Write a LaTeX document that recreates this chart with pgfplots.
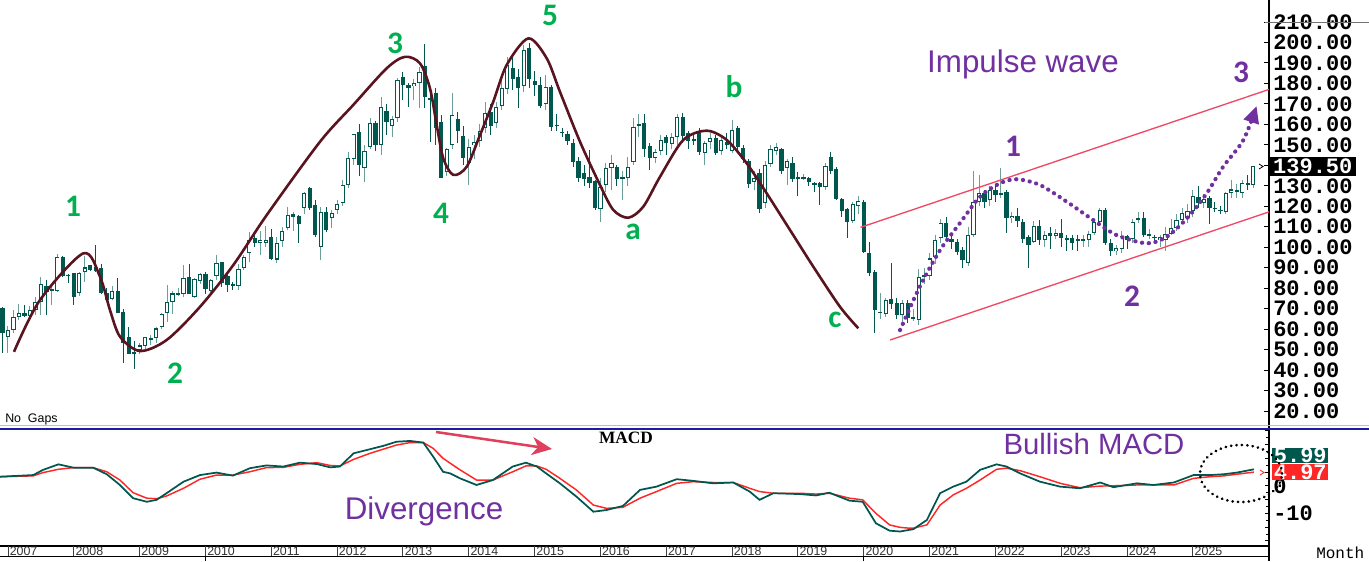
\documentclass[border=0pt]{standalone}
\usepackage{pgfplots}
\pgfplotsset{compat=1.18}
\usepackage{pgfplotstable}
\usepackage{fontspec}
\setmainfont{Liberation Sans}
\newfontfamily\monofont{Liberation Mono}
\newfontfamily\seriffont{Liberation Serif}
\newfontfamily\numfont{Carlito}
\usetikzlibrary{arrows.meta}
\newlength\px
\setlength\px{0.75pt}
\definecolor{candle}{HTML}{00574E}
\definecolor{wickup}{HTML}{6A9E98}
\definecolor{macdg}{HTML}{00574E}
\definecolor{macdr}{HTML}{FF2626}
\definecolor{wavegreen}{HTML}{00B050}
\definecolor{wavepurple}{HTML}{7030A0}
\definecolor{wavemaroon}{HTML}{5A1420}
\definecolor{chan}{HTML}{EE4866}
\definecolor{arrowred}{HTML}{E0405E}
\definecolor{sepblue}{HTML}{1C1CA0}
\newcommand\pricefont{\monofont\bfseries\fontsize{16.5}{16.5}\selectfont}

\pgfplotstableread{
m o h l c
-1 70.1 71 48.1 57.9
0 56.0 61.5 48.4 59.5
1 59.5 69.5 58 66.0
2 66 72.5 64.4 68
3 68 72 66 66.4
4 66.4 71.3 65.2 69.3
5 69.3 75.5 66.9 73.3
6 73.3 85.3 66.9 82
7 81 84 66.9 78.2
8 78.6 81.5 72 79.4
9 78.6 96.7 77.9 95
10 95 95.7 85.6 85.9
11 86.4 87 82.5 86
12 87.2 87.5 71.7 75.8
13 77.4 88 76 87.2
14 88 95.7 83.1 90.1
15 91.2 91.5 88.5 88.9
16 90.5 101 88 88.5
17 90 92 77.1 77.4
18 77.4 80 74 74.2
19 74.5 81 74 78.7
20 78.7 84.8 68 68
21 68.5 70 43.6 53
22 56.3 61.2 47.8 47.8
23 48.5 54.3 40.3 48.5
24 49.8 53 48 52
25 51.7 56.3 49.8 56.3
26 55 57 52 55.5
27 55.8 61 53 60.3
28 61.2 68 60 67.3
29 68 81.5 63.6 73.4
30 73.4 78.5 67.6 77.4
31 77 80 76 77.2
32 77 91.3 75.8 84.8
33 85.6 91.8 77 77.1
34 75.8 85 75 84.4
35 83.5 87.5 82 86.9
36 86.9 88 77 79.4
37 78.7 84.3 77.8 83.8
38 85.9 96.2 84 92.1
39 92.8 93 80.7 82.3
40 86.1 86.5 78.2 81.5
41 82 83 79 81.4
42 81 92 79 89.2
43 90 96 89 95.4
44 97 107.6 92.9 103.5
45 104.3 107 100 102.2
46 102.2 108 96 103.5
47 102.2 110.3 100.2 103.5
48 104.8 109 93.7 94.1
49 94 105 92.1 102.2
50 103.2 110 100.2 108.1
51 109.2 119.5 108.4 115.9
52 115 117 108 116
53 115.2 115.7 101.9 111.2
54 119 127 116 126.3
55 128.7 129.5 118 119
56 120.6 123 105 106
57 100.2 119.5 93.7 117.3
58 117.3 119.5 107.6 108.4
59 114.1 118 109.2 116.5
60 118.2 123 116 120.9
61 121.4 133 120 130.4
62 130.4 146.3 129 143.4
63 143.1 155.5 140 155.1
64 156.1 160 135 140.1
65 138.8 150 132 147
66 149.1 163 148 160.5
67 160.5 161.5 147 149.9
68 149.9 173.5 145 168.3
69 166.5 170 155 161
70 159.4 164 154 162.4
71 162.9 182.5 161 181.7
72 183.3 185.5 172 179.2
73 179.2 180 168.6 177.9
74 178.9 182 172 180
75 180.4 188 168 185.7
76 188.5 199.1 168 173.2
77 173 175 151.5 172.2
78 175.2 178 150 158.4
79 161 164.6 134 134
80 136.9 148.5 135 148
81 150 175.5 148 164.6
82 162.4 166 151 156.9
83 154.5 159 140 143.4
84 141.3 153 130.4 149.1
85 149.9 155 143 151.2
86 152 160 149 156.9
87 158.1 171 156 165.4
88 166.2 170 155 159.4
89 160.5 171 158 168.3
90 169.1 182 167 177.9
91 177.3 193 175 189
92 187.4 194 177 182
93 183.3 187 168 177.6
94 178.9 199 176 196.3
95 197.1 199.5 178 182
96 181.2 186 174 179.2
97 179.2 183 168 169.1
98 170 184 167 178.4
99 178.1 179 157 158.9
100 159.5 165 157 159.4
101 156.3 158 154 156.1
102 155.3 157 150 152
103 151 153 139 141.8
104 142.1 144 132 134
105 136.4 140 130 133.3
106 134.1 147.5 129 131.5
107 132.3 133 118 119.3
108 118.5 134 112.5 129.6
109 130.4 141 127 138.5
110 138.5 145 128 141
111 139.3 140 130 133.3
112 133.1 137 123 134.1
113 134 144 130 139
114 141.8 163 140 158.5
115 159.6 165 154 160
116 160.5 165 144 148
117 149.4 151 137.7 143.4
118 143.7 148 141 146.3
119 147 155 145 152.3
120 154 155 145 151
121 150.2 156 148 154
122 154 165 150 163.4
123 163.4 165.4 151 154.3
124 155.9 157 148 152
125 152.4 155 150 152.3
126 155.6 158 145 146.6
127 145.8 152 140.1 150.7
128 151.2 156 148 153.2
129 153.2 155 145 145.8
130 147.1 154 145 152.3
131 151.5 156 148 149.9
132 147.1 162 146 157.2
133 158 159 147 149.1
134 148.3 150 141 142.9
135 142.2 143 129 130.8
136 132 137 128 133.6
137 136.1 138 116.8 118.5
138 121.4 142 119 140.1
139 140.5 150 139 147.8
140 147.1 151 145 149.1
141 148 148.5 136 137.4
142 138.5 143 130.4 142.2
143 141.3 144 132 133.1
144 134.1 136.9 125 134
145 134 136 133 134.1
146 134 134.5 130 132
147 131.2 132 127 131
148 131.2 132 120.6 129.2
149 129.2 141 128 139.6
150 143.9 146.6 136 137.4
151 138.2 139 123 123.4
152 123.4 124 115 117.8
153 118.6 119 104.3 112.1
154 112.9 122 112 121.1
155 120.1 125 116 122.7
156 122.2 123 97 97.8
157 97.3 102.7 86 87.2
158 88 89 58.2 69.3
159 68.0 77.5 65 68.6
160 67.3 75 65.8 74.2
161 74.5 92.2 70 72.2
162 72.9 75 65 66.9
163 66.9 74 62 72.6
164 72.9 74 63 65.2
165 65.2 70 64 65.7
166 64.4 89.5 62 85.6
167 85.6 90 82 86.5
168 86.0 97 84 94.5
169 95 106 92 103.5
170 104.3 114 102 111.6
171 111.6 115 103 105.1
172 103.8 106 99 102.7
173 102.7 104 96 97.8
174 98.6 100 90 93.7
175 92.1 110 91 105.9
176 105.9 137.4 105 122.2
177 122.2 135.3 120 126.3
178 126.3 128 119 122.2
179 123 130 120 127.9
180 127.9 130 122 125.5
181 125.9 138.5 124 126.3
182 127.1 128 106.8 114.1
183 114.1 117 112 115.2
184 115.2 119 110 113
185 112.5 114 102 103.8
186 104.8 106 89.7 101.1
187 102.7 113 102 110.4
188 110.4 113.3 101 103.5
189 103.5 108 100 106
190 106.8 110 99 105.5
191 105.5 109 104 107.1
192 107.1 114 100 104.3
193 104.3 106 98 104
194 104.3 106 98.6 102.2
195 103.5 106 98 103.5
196 103.3 106 100 103.7
197 103.5 108 100 106.4
198 107.1 114 106 112.5
199 112.5 119 111 118.2
200 118.2 119 101 102.2
201 102.2 104 95.7 98.3
202 98.3 101 96 99.4
203 99 108 97 105.5
204 105.5 106 99 103.5
205 103.8 114 102 112.5
206 113.6 117 112 114.4
207 114.1 117 105 105.9
208 106 109 104 106.2
209 104.8 106 102 104.8
210 103.5 106 100 104.8
211 103.5 110 98 106.4
212 106.4 114 106 109.2
213 109.2 116 108 113.3
214 113.3 119 112 116.5
215 114.1 121 112 117.8
216 117.8 128 115 125
217 124.7 130 119 121.7
218 121.7 126 119 123.4
219 123.9 125 111.3 119
220 119 122 117 119
221 118 120 116 117.9
222 117.4 127 116 126.3
223 126.6 132.8 124 128.2
224 127.5 131 124 127.8
225 126.6 133 124 131.2
226 131.2 135.3 128 130.4
227 130.4 139.7 129 139.5
}\candles

\pgfplotstableread{
m v
-1.5 3.3
4.6 3.9
6.4 5.8
9.2 7.8
11.9 6.6
15.5 6.6
18 4.2
20.4 0.3
22.8 -4.5
25.3 -5.8
27.1 -5.1
28.9 -2.7
32 1.5
35 3.9
38 4.8
41 3.7
44.1 6.4
47.1 7.4
50.2 7.0
53.2 8.4
56.3 7.9
58.7 6.7
60.5 7.0
63 11.8
66 13.3
68.4 14.5
70.8 16.0
73.3 16.3
75.7 15.7
77.5 10.6
79.3 5.1
80.6 4.5
82.4 2.7
85.4 0.3
88.4 2.1
92 7.0
94.4 8.4
96.4 7.0
98.1 4.5
100.6 0.9
103.6 -3.9
106.7 -9.4
109.1 -8.8
112.1 -7.3
115.2 -1.5
118.2 -0.3
121.9 2.4
124.9 1.8
128.5 0.9
132.2 1.2
135.2 -2.1
137 -5.1
139.5 -2.7
144.3 -3.0
147.3 -3.5
149.7 -2.5
153.4 -5.4
155.8 -5.8
158.2 -13.6
160.7 -16.3
162.6 -16.6
164.3 -16.0
165 -15.8
167.5 -12.4
169.9 -2.7
172.3 -0.3
174.7 1.5
177.2 5.8
180.2 7.8
182 7.0
184.5 4.5
188.1 1.5
191.8 -0.3
195.4 -0.9
199.1 1.2
201.5 -0.5
205.8 0.9
208.8 0.3
212.5 1.2
216.1 3.9
219.1 3.9
221.6 4.2
224 4.8
227.1 5.99
}\macdline

\pgfplotstableread{
m v
-1.5 3.3
4.6 3.6
6.4 4.8
9.2 6.0
11.9 6.6
15.5 6.6
18 5.1
20.4 2.1
22.8 -2.5
25.3 -4.5
27.1 -4.7
28.9 -3.7
32 -0.9
35 2.4
38 3.9
41 3.9
44.1 5.1
47.1 6.6
50.2 6.7
53.2 7.8
56.3 8.4
58.7 7.4
60.5 7.2
63 9.6
66 11.8
68.4 13.3
70.8 14.8
73.3 15.7
75.7 15.7
77.5 13.6
79.3 10.0
80.6 8.2
82.4 5.8
85.4 2.1
88.4 2.1
92 5.1
94.4 7.2
96.4 7.2
98.1 6.0
100.6 2.7
103.6 -1.5
106.7 -7.0
109.1 -8.2
112.1 -7.8
115.2 -4.5
118.2 -2.1
121.9 0.9
124.9 1.5
128.5 1.2
132.2 1.2
135.2 -0.9
137 -2.1
139.5 -2.7
144.3 -2.7
147.3 -3.0
149.7 -2.7
153.4 -4.5
155.8 -5.1
158.2 -10.0
160.7 -14.2
162.6 -15.1
164.3 -15.4
165 -15.4
167.5 -14.2
169.9 -7.0
172.3 -3.3
174.7 -0.9
177.2 2.1
180.2 6.0
182 6.4
184.5 5.5
188.1 3.3
191.8 0.9
195.4 -0.7
199.1 -0.1
201.5 0.0
205.8 0.3
208.8 0.3
212.5 0.3
216.1 2.7
219.1 3.3
221.6 3.6
224 4.2
227.1 4.97
}\signalline

\tikzset{
  gnum/.style={text=wavegreen, font=\numfont\bfseries\fontsize{23.5}{23.5}\selectfont, inner sep=0pt},
  pnum/.style={text=wavepurple, font=\numfont\bfseries\fontsize{23.5}{23.5}\selectfont, inner sep=0pt},
  ptext/.style={text=wavepurple, font=\fontsize{23.5}{23.5}\selectfont, inner sep=0pt},
}

\begin{document}
\begin{tikzpicture}
\useasboundingbox (0,0) rectangle (1026.75pt,-420.75pt);

% ---------- price panel ----------
\begin{axis}[
  at={(0,0)}, anchor=north west, scale only axis,
  width=951.75pt, height=321pt,
  xmin=-1.458, xmax=229.86, ymin=11.697, ymax=220.745,
  axis x line=none, axis y line=right,
  axis line style={-, black, line width=0.9pt},
  ytick={20,30,...,130,150,160,...,210},
  extra y ticks={140}, extra y tick labels={},
  minor y tick num=4,
  tick align=inside,
  major tick length=3.75pt, minor tick length=2.25pt,
  tick style={black, line width=0.7pt},
  yticklabel style={/pgf/number format/fixed, /pgf/number format/fixed zerofill,
    /pgf/number format/precision=2, /pgf/number format/assume math mode=true,
    font=\pricefont, text=black, anchor=west, inner sep=0pt, xshift=3pt},
]
% wicks
\addplot[draw=none, mark=none, forget plot,
  restrict expr to domain={\thisrow{c}-\thisrow{o}}{0.001:1000},
  error bars/.cd, y dir=both, y explicit, error mark=none,
  error bar style={draw=wickup, line width=0.75pt, solid}]
  table[x=m, y expr={(\thisrow{h}+\thisrow{l})/2}, y error expr={(\thisrow{h}-\thisrow{l})/2}] {\candles};
\addplot[draw=none, mark=none, forget plot,
  restrict expr to domain={\thisrow{o}-\thisrow{c}}{0:1000},
  error bars/.cd, y dir=both, y explicit, error mark=none,
  error bar style={draw=candle, line width=0.75pt, solid}]
  table[x=m, y expr={(\thisrow{h}+\thisrow{l})/2}, y error expr={(\thisrow{h}-\thisrow{l})/2}] {\candles};
% down bodies
\addplot[draw=none, mark=none, forget plot,
  restrict expr to domain={\thisrow{o}-\thisrow{c}}{0:1000},
  error bars/.cd, y dir=both, y explicit, error mark=none,
  error bar style={draw=candle, line width=3.15pt, solid}]
  table[x=m, y expr={(\thisrow{o}+\thisrow{c})/2}, y error expr={max(abs(\thisrow{o}-\thisrow{c})/2,0.3)}] {\candles};
% up bodies (outline + white inside)
\addplot[draw=none, mark=none, forget plot,
  restrict expr to domain={\thisrow{c}-\thisrow{o}}{0.001:1000},
  error bars/.cd, y dir=both, y explicit, error mark=none,
  error bar style={draw=candle, line width=3.15pt, solid}]
  table[x=m, y expr={(\thisrow{o}+\thisrow{c})/2}, y error expr={max(abs(\thisrow{o}-\thisrow{c})/2,0.3)}] {\candles};
\addplot[draw=none, mark=none, forget plot,
  restrict expr to domain={\thisrow{c}-\thisrow{o}}{0.001:1000},
  error bars/.cd, y dir=both, y explicit, error mark=none,
  error bar style={draw=white, line width=1.75pt, solid}]
  table[x=m, y expr={(\thisrow{o}+\thisrow{c})/2}, y error expr={max(abs(\thisrow{o}-\thisrow{c})/2-0.5,0)}] {\candles};

% Elliott wave curve
\addplot[wavemaroon, line width=1.95pt, smooth, tension=0.5] coordinates {
(1.09,48.9) (5.83,74.2) (13.73,97.0) (16.77,85.6) (18.59,69.3) (20.42,56.3) (24.06,49.3)
(28.93,54.7) (35.0,70.9) (41.07,91.3) (47.16,115.7) (56.87,151.5) (62.94,169.5) (69.03,187.4)
(72.37,193.0) (75.1,189.8) (76.92,177.6) (78.14,159.7) (79.35,143.4) (81.17,135.3) (83.61,139.3)
(86.04,154.8) (88.46,171.1) (90.9,189.0) (94.84,202.0) (98.19,192.3) (100.6,176.0) (104.27,151.5)
(107.91,130.4) (110.34,118.2) (113.07,114.4) (115.8,119.8) (118.85,134.4) (123.1,152.4)
(127.36,156.9) (131.0,152.4) (134.65,141.0) (138.3,126.3) (142.55,108.4) (146.79,90.5)
(151.66,70.9) (155.0,60.4)};

% channel
\addplot[chan, line width=1pt] coordinates {(155.4,109.7) (229.9,177.1)};
\addplot[chan, line width=1pt] coordinates {(160.8,54.7) (229.9,117.3)};

% impulse wave projection
\addplot[wavepurple, line width=3.1pt, line cap=round, dash pattern=on 0.2pt off 4.9pt, smooth, tension=0.5,
  -{Triangle[length=12.75pt, width=11.25pt]}] coordinates {
(162.6,59.5) (166.2,80.7) (169.9,98.6) (173.5,111.7) (177.2,124.7) (180.8,131.2) (183.9,133.2)
(188.1,130.4) (193.0,122.2) (197.8,113.3) (202.1,105.9) (207.6,101.9) (211.2,105.1) (214.9,114.1)
(218.5,126.3) (221.5,139.3) (225.2,152.4) (227.6,169.0)};
\end{axis}

% ---------- MACD panel ----------
\begin{axis}[
  at={(0,-321.75pt)}, anchor=north west, scale only axis,
  width=951.75pt, height=87.75pt,
  xmin=-1.458, xmax=229.86, ymin=-21.87, ymax=20.63,
  axis x line=bottom, axis y line=right,
  axis line style={-, black, line width=0.9pt},
  xtick=\empty,
  ytick={-20,-15,...,20},
  yticklabels={{},{},-10,{},0,{},{},{},{}},
  minor y tick num=1,
  tick align=inside,
  major tick length=3pt, minor tick length=1.9pt,
  tick style={black, line width=0.7pt},
  yticklabel style={font=\pricefont, text=black, anchor=west, inner sep=0pt, xshift=3pt},
]
\addplot[macdr, line width=1.1pt] table[x=m, y=v] {\signalline};
\addplot[macdg, line width=1.3pt] table[x=m, y=v] {\macdline};
\end{axis}

% ---------- frame decorations ----------
\draw[black!25, line width=0.75pt] (0,-425.5\px) -- (1369\px,-425.5\px);
\draw[sepblue, line width=1.5pt] (0,-428.5\px) -- (1369\px,-428.5\px);
\draw[black!55, line width=0.75pt] (1265\px,-22\px) -- (1369\px,-22\px);
\draw[black, line width=0.9pt] (1269\px,-546\px) -- (1269\px,-561\px);
\draw[black, line width=0.75pt] (0,-556\px) -- (1269\px,-556\px);
\foreach \k in {0,...,18}{
  \pgfmathsetmacro\xx{8+65.83*\k}
  \pgfmathtruncatemacro\yr{2007+\k}
  \draw[black!75, line width=0.75pt] (\xx\px,-546\px) -- (\xx\px,-556\px);
  \node[anchor=west, inner sep=0pt, text=black!80, font=\fontsize{9.3}{9.3}\selectfont] at ({(\xx+1.5)*\px},-551.5\px) {\yr};
}
\draw[black, line width=0.75pt] (205.5\px,-556\px) -- (205.5\px,-561\px);
\draw[black, line width=0.75pt] (863.8\px,-556\px) -- (863.8\px,-561\px);
\node[anchor=west, inner sep=0pt, font=\monofont\fontsize{12}{12}\selectfont] at (1316\px,-552.5\px) {Month};
\node[anchor=west, inner sep=0pt, font=\fontsize{9.3}{9.3}\selectfont] at (5\px,-419\px) {No\ \ Gaps};

% last price boxes
\node[anchor=west, fill=black, text=white, font=\pricefont, inner sep=0pt, minimum height=14.25pt, minimum width=65.25pt] at (1269\px,-166.5\px) {139.50};
\draw[black, line width=0.6pt] (1259\px,-164\px) -- (1263\px,-166.5\px) -- (1259\px,-169\px);
\node[anchor=west, fill=macdg, text=white, font=\pricefont, inner sep=0pt, minimum height=11.25pt, minimum width=42pt] at (1272\px,-455\px) {5.99};
\node[anchor=west, fill=macdr, text=white, font=\pricefont, inner sep=0pt, minimum height=12pt, minimum width=42pt] at (1272\px,-472\px) {4.97};
\draw[macdr, line width=0.6pt] (1260\px,-470\px) -- (1264\px,-472.5\px) -- (1260\px,-475\px);

% wave labels
\node[gnum] at (73\px,-206\px) {1};
\node[gnum] at (175\px,-373\px) {2};
\node[gnum] at (395\px,-43\px) {3};
\node[gnum] at (441\px,-213\px) {4};
\node[gnum] at (550\px,-15\px) {5};
\node[gnum] at (633\px,-232\px) {a};
\node[gnum] at (734\px,-87\px) {b};
\node[gnum] at (835\px,-320\px) {c};
\node[pnum] at (1013\px,-146\px) {1};
\node[pnum] at (1132\px,-296\px) {2};
\node[pnum] at (1241\px,-72\px) {3};
\node[ptext] at (1023\px,-64\px) {Impulse wave};
\node[ptext] at (424\px,-511\px) {Divergence};
\node[ptext, font=\fontsize{22}{22}\selectfont] at (1094\px,-444\px) {Bullish MACD};
\node[inner sep=0pt, font=\seriffont\bfseries\fontsize{13}{13}\selectfont] at (626\px,-438\px) {MACD};

% divergence arrow and ellipse
\draw[arrowred, line width=1.9pt, -{Stealth[length=15pt, width=13.5pt, inset=4.5pt]}] (436\px,-432\px) -- (552\px,-449\px);
\draw[black, line width=2.1pt, line cap=round, dash pattern=on 0.15pt off 3.9pt] (1241\px,-473.5\px) ellipse [x radius=30.75pt, y radius=21.4pt];
\end{tikzpicture}
\end{document}
